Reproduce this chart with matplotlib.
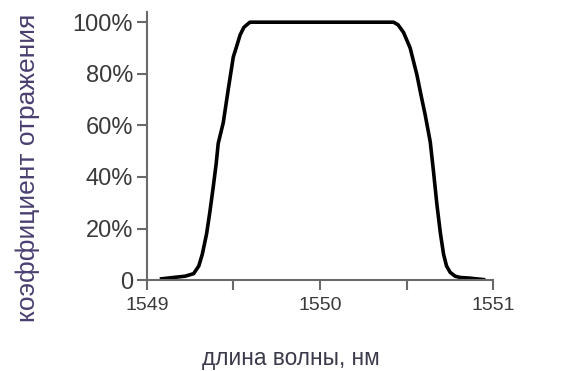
import matplotlib
matplotlib.use('Agg')
import matplotlib.pyplot as plt
from matplotlib.ticker import FixedLocator

# spectrum
wavelength = [1549.085, 1549.15, 1549.22, 1549.27, 1549.30, 1549.32, 1549.345, 1549.365,
              1549.383, 1549.40, 1549.412, 1549.441, 1549.47, 1549.499, 1549.52, 1549.538,
              1549.56, 1549.595, 1550.0, 1550.424, 1550.45, 1550.482, 1550.52, 1550.559,
              1550.585, 1550.607, 1550.636, 1550.655, 1550.675, 1550.695, 1550.713, 1550.73,
              1550.751, 1550.78, 1550.81, 1550.86, 1550.90, 1550.944]
reflect = [0.5, 1.0, 1.5, 2.5, 5.5, 10, 18, 27,
           36, 45, 53, 61, 74, 86.5, 91, 95,
           98, 100, 100, 100, 99, 96, 90, 79.6,
           71, 64, 53.6, 42, 29, 18, 10, 5.5,
           3, 1.5, 1.0, 0.8, 0.5, 0.2]

yticks = [0, 20, 40, 60, 80, 100]
ytick_labels = ['0', '20%', '40%', '60%', '80%', '100%']
xticks = [1549, 1550, 1551]
xtick_labels = ['1549', '1550', '1551']
xminor = [1549.5, 1550.5]

font = ['Liberation Sans', 'DejaVu Sans']

fig = plt.figure(figsize=(5.67, 3.71), dpi=100)
ax = fig.add_axes([0.259, 0.245, 0.611, 0.723])
ax.plot(wavelength, reflect, color='black', lw=2.6, solid_joinstyle='round')
ax.set_xlim(1549, 1551)
ax.set_ylim(0, 104)

for s in ['top', 'right']:
    ax.spines[s].set_visible(False)
for s in ['left', 'bottom']:
    ax.spines[s].set_color('#6a6a6a')
    ax.spines[s].set_linewidth(1.5)
ax.spines['left'].set_bounds(0, 104)

ax.set_yticks(yticks)
ax.set_yticklabels(ytick_labels, family=font, fontsize=17, color='#3a3a3a')
ax.set_xticks(xticks)
ax.set_xticklabels(xtick_labels, family=font, fontsize=14, color='#3a3a3a')
ax.xaxis.set_minor_locator(FixedLocator(xminor))
ax.tick_params(axis='both', which='both', direction='out', length=7, width=1.5,
               color='#6a6a6a', pad=3)
ax.tick_params(axis='x', which='major', pad=5)

fig.text(0.049, 0.548, 'коэффициент отражения', rotation=90, ha='center', va='center',
         family=font, fontsize=19, color='#4a3f70')
fig.text(0.513, 0.035, 'длина волны, нм', ha='center', va='center',
         family=font, fontsize=16.3, color='#3a3a4a')

fig.savefig('out.png', dpi=100)
